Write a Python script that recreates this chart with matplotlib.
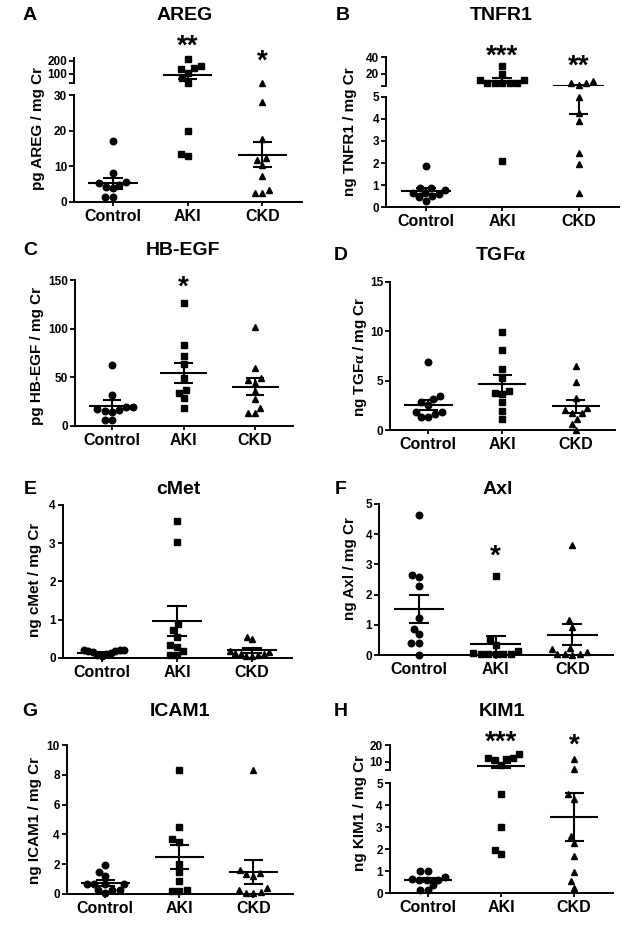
import numpy as np
import matplotlib
matplotlib.use('Agg')
import matplotlib.pyplot as plt
import matplotlib.transforms as mtransforms

plt.rcParams['font.family'] = 'Liberation Sans'
plt.rcParams['font.weight'] = 'bold'
plt.rcParams['mathtext.fontset'] = 'custom'
plt.rcParams['mathtext.rm'] = 'Liberation Serif'
plt.rcParams['mathtext.it'] = 'Liberation Serif:italic'
plt.rcParams['mathtext.bf'] = 'Liberation Serif:bold'

W, H = 626, 944

groups = ['Control', 'AKI', 'CKD']
markers = ['o', 's', '^']
msizes = [4.7, 4.3, 4.7]

# A - AREG
areg_control = [17.2, 8.0, 5.6, 5.4, 4.8, 4.2, 3.8, 1.5, 1.5]
areg_aki = [216, 164, 144, 139, 110, 67, 31, 19.8, 13.5, 12.8]
areg_ckd = [33, 28.1, 17.6, 12.2, 11.8, 10.4, 7.3, 3.4, 2.6, 2.6]
areg_mean = [5.2, 92, 13.3]
areg_sem = [1.55, 31, 3.4]

# B - TNFR1
tnfr_control = [1.85, 0.88, 0.85, 0.8, 0.66, 0.65, 0.6, 0.5, 0.45, 0.3]
tnfr_aki = [29.1, 19.5, 12.2, 12.2, 9.2, 9.2, 9.0, 8.8, 8.5, 2.1]
tnfr_ckd = [11, 9, 8.3, 6.2, 4.97, 4.28, 3.9, 2.47, 1.96, 0.66]
tnfr_mean = [0.75, 11.4, 5.3]
tnfr_sem = [0.13, 3.0, 1.07]

# C - HB-EGF
hbegf_control = [62.8, 31.6, 20, 20, 17, 16, 15, 14, 5.8, 5.8]
hbegf_aki = [126.3, 83.1, 72.1, 63.5, 49.8, 37.1, 34.3, 28.5, 18.9]
hbegf_ckd = [102.3, 60, 49, 47.5, 44.6, 36, 27.5, 18.9, 13, 13]
hbegf_mean = [20.6, 54.9, 40.5]
hbegf_sem = [5.8, 10.3, 8.6]

# D - TGFa
tgfa_control = [6.9, 3.45, 3.2, 2.9, 2.6, 1.85, 1.85, 1.6, 1.3, 1.3]
tgfa_aki = [9.94, 8.09, 6.17, 5.3, 4.0, 3.74, 3.7, 2.9, 2.0, 1.18]
tgfa_ckd = [6.5, 4.92, 3.3, 2.3, 2.1, 1.79, 1.72, 1.18, 0.67, 0.05]
tgfa_mean = [2.56, 4.72, 2.42]
tgfa_sem = [0.5, 0.84, 0.64]

# E - cMet
cmet_control = [0.2, 0.2, 0.19, 0.18, 0.17, 0.15, 0.12, 0.1, 0.08, 0.05]
cmet_aki = [3.58, 3.04, 0.87, 0.72, 0.55, 0.34, 0.28, 0.17, 0.08, 0.06]
cmet_ckd = [0.55, 0.5, 0.18, 0.15, 0.12, 0.1, 0.1, 0.08, 0.05, 0.04]
cmet_mean = [0.13, 0.96, 0.19]
cmet_sem = [0.02, 0.4, 0.07]

# F - Axl
axl_control = [4.64, 2.64, 2.58, 2.29, 1.23, 0.88, 0.7, 0.42, 0.42, 0.02]
axl_aki = [2.6, 0.5, 0.33, 0.13, 0.06, 0.05, 0.05, 0.04, 0.04, 0.03]
axl_ckd = [3.65, 1.15, 0.93, 0.25, 0.22, 0.1, 0.05, 0.03, 0.03, 0.02]
axl_mean = [1.54, 0.36, 0.68]
axl_sem = [0.46, 0.27, 0.35]

# G - ICAM1
icam_control = [1.96, 1.44, 1.21, 0.68, 0.66, 0.64, 0.62, 0.28, 0.25, 0.22, 0.05]
icam_aki = [8.31, 4.47, 3.7, 3.5, 2.0, 1.44, 0.83, 0.27, 0.2, 0.16]
icam_ckd = [8.31, 1.62, 1.4, 1.35, 1.17, 0.38, 0.27, 0.1, 0.05, 0.05]
icam_mean = [0.72, 2.47, 1.46]
icam_sem = [0.17, 0.83, 0.78]

# H - KIM1
kim_control = [0.98, 0.98, 0.72, 0.62, 0.6, 0.6, 0.58, 0.38, 0.15, 0.12]
kim_aki = [14.4, 12.3, 12, 11.5, 11, 8, 4.5, 3.0, 1.97, 1.79]
kim_ckd = [11.5, 5.4, 4.5, 4.3, 2.58, 2.27, 1.67, 0.95, 0.53, 0.23]
kim_mean = [0.58, 7.6, 3.45]
kim_sem = [0.09, 1.5, 1.1]

# panel layout, pixel geometry of the reference
panels = [
    dict(letter='A', title='AREG', ylabel='pg AREG / mg Cr',
         data=[areg_control, areg_aki, areg_ckd], mean=areg_mean, sem=areg_sem,
         x=(74, 302), lower=(95, 202, 0, 30, [0, 10, 20, 30]),
         upper=(58, 83.3, 28, 222, [100, 200]),
         title_xy=(185, 15), letter_xy=(30, 15), ylab_xy=(38, 129),
         stars=[('**', 1, 42), ('*', 2, 57)]),
    dict(letter='B', title='TNFR1', ylabel='ng TNFR1 / mg Cr',
         data=[tnfr_control, tnfr_aki, tnfr_ckd], mean=tnfr_mean, sem=tnfr_sem,
         x=(386, 619), lower=(96.7, 207.3, 0, 5, [0, 1, 2, 3, 4, 5]),
         upper=(57, 86, 5, 40, [20, 40]),
         title_xy=(501, 15), letter_xy=(343, 15), ylab_xy=(350, 132),
         stars=[('***', 1, 52), ('**', 2, 62)]),
    dict(letter='C', title='HB-EGF', ylabel='pg HB-EGF / mg Cr',
         data=[hbegf_control, hbegf_aki, hbegf_ckd], mean=hbegf_mean, sem=hbegf_sem,
         x=(75, 293), lower=(280.3, 426, 0, 150, [0, 50, 100, 150]), upper=None,
         title_xy=(183, 250), letter_xy=(30, 250), ylab_xy=(37, 356),
         stars=[('*', 1, 283)]),
    dict(letter='D', title=r'TGF$\mathrm{\alpha}$', ylabel=r'ng TGF$\mathrm{\alpha}$ / mg Cr',
         data=[tgfa_control, tgfa_aki, tgfa_ckd], mean=tgfa_mean, sem=tgfa_sem,
         x=(390, 615), lower=(282, 430.3, 0, 15, [0, 5, 10, 15]), upper=None,
         title_xy=(501, 256), letter_xy=(341, 256), ylab_xy=(360, 357),
         stars=[]),
    dict(letter='E', title='cMet', ylabel='ng cMet / mg Cr',
         data=[cmet_control, cmet_aki, cmet_ckd], mean=cmet_mean, sem=cmet_sem,
         x=(62.7, 292), lower=(505, 657.7, 0, 4, [0, 1, 2, 3, 4]), upper=None,
         title_xy=(178, 489), letter_xy=(30, 489), ylab_xy=(35, 580),
         stars=[]),
    dict(letter='F', title='Axl', ylabel='ng Axl / mg Cr',
         data=[axl_control, axl_aki, axl_ckd], mean=axl_mean, sem=axl_sem,
         x=(379, 613), lower=(503.7, 655.3, 0, 5, [0, 1, 2, 3, 4, 5]), upper=None,
         title_xy=(498, 489), letter_xy=(341, 489), ylab_xy=(350, 569),
         stars=[('*', 1, 552)]),
    dict(letter='G', title='ICAM1', ylabel='ng ICAM1 / mg Cr',
         data=[icam_control, icam_aki, icam_ckd], mean=icam_mean, sem=icam_sem,
         x=(66.7, 292.7), lower=(745.3, 893.7, 0, 10, [0, 2, 4, 6, 8, 10]), upper=None,
         title_xy=(180, 711), letter_xy=(30, 711), ylab_xy=(35, 820),
         stars=[]),
    dict(letter='H', title='KIM1', ylabel='ng KIM1 / mg Cr',
         data=[kim_control, kim_aki, kim_ckd], mean=kim_mean, sem=kim_sem,
         x=(389.7, 613), lower=(783.3, 893, 0, 5, [0, 1, 2, 3, 4, 5]),
         upper=(745, 770, 5, 20, [10, 20]),
         title_xy=(502, 711), letter_xy=(341, 711), ylab_xy=(360, 813),
         stars=[('***', 1, 738), ('*', 2, 741)]),
]

XLIM = (-0.52, 2.53)
SPREAD_MAX = 0.3  # widest a group of dots may spread, in category units


def px_rect(x0, x1, ytop, ybot):
    return [x0 / W, 1 - ybot / H, (x1 - x0) / W, (ybot - ytop) / H]


def swarm(ypx, d):
    # simple beeswarm: smallest horizontal shift that avoids overlap
    order = np.argsort(ypx)
    xs = np.zeros(len(ypx))
    placed = []
    for i in order:
        cands = [0.0]
        for xj, yj in placed:
            dy = abs(ypx[i] - yj)
            if dy < d:
                w = np.sqrt(d * d - dy * dy)
                cands += [xj - w, xj + w]
        cands.sort(key=lambda c: (abs(c), c))
        for c in cands:
            if all((c - xj) ** 2 + (ypx[i] - yj) ** 2 >= d * d - 1e-6 for xj, yj in placed):
                xs[i] = c
                break
        placed.append((xs[i], ypx[i]))
    return xs


def draw_segment(ax, p, lo, hi, cut, top_seg, wpx, hpx):
    # cut = top value of the lower segment; points above it go to the upper one
    xscale = wpx / (XLIM[1] - XLIM[0])
    for i, vals in enumerate(p['data']):
        v = np.array(vals, dtype=float)
        sel = v > cut if top_seg else v <= cut
        v = v[sel]
        if len(v):
            ypx = (v - lo) / (hi - lo) * hpx
            off = swarm(ypx, 7.5) / xscale
            if np.abs(off).max() > SPREAD_MAX:
                off = off * SPREAD_MAX / np.abs(off).max()
            ax.plot(i + off, v, markers[i], ls='none', color='k', ms=msizes[i],
                    clip_on=False, zorder=3)
        m, s = p['mean'][i], p['sem'][i]
        kw = dict(color='k', lw=1.5, solid_capstyle='butt')
        ax.plot([i - 0.33, i + 0.33], [m, m], **kw)
        ax.plot([i, i], [m - s, m + s], **kw)
        ax.plot([i - 0.13, i + 0.13], [m + s, m + s], **kw)
        ax.plot([i - 0.13, i + 0.13], [m - s, m - s], **kw)


fig = plt.figure(figsize=(W / 100, H / 100), dpi=100)

for p in panels:
    x0, x1 = p['x']
    ytop, ybot, lo, hi, ticks = p['lower']
    ax = fig.add_axes(px_rect(x0, x1, ytop, ybot))
    ax.set_xlim(*XLIM)
    ax.set_ylim(lo, hi)
    draw_segment(ax, p, lo, hi, hi, False, x1 - x0, ybot - ytop)
    ax.set_yticks(ticks)
    ax.set_yticklabels([str(t) for t in ticks])
    ax.set_xticks(range(3))
    ax.set_xticklabels(groups, fontsize=11.5, fontweight='bold')
    for side in ['top', 'right']:
        ax.spines[side].set_visible(False)
    for side in ['left', 'bottom']:
        ax.spines[side].set_linewidth(1.4)
    ax.tick_params(axis='y', direction='out', length=3.5, width=1.3, labelsize=8.5, pad=1.5)
    ax.tick_params(axis='x', direction='out', length=3, width=1.3, pad=2)

    if p['upper'] is not None:
        ut, ub, ulo, uhi, uticks = p['upper']
        axu = fig.add_axes(px_rect(x0, x1, ut, ub))
        axu.set_xlim(*XLIM)
        axu.set_ylim(ulo, uhi)
        draw_segment(axu, p, ulo, uhi, hi, True, x1 - x0, ub - ut)
        axu.set_yticks([ulo] + uticks)
        axu.set_yticklabels([''] + [str(t) for t in uticks])
        axu.set_xticks([])
        for side in ['top', 'right', 'bottom']:
            axu.spines[side].set_visible(False)
        axu.spines['left'].set_linewidth(1.4)
        axu.tick_params(axis='y', direction='out', length=3.5, width=1.3, labelsize=8.5, pad=1.5)
        axu.patch.set_alpha(0)

    tx, ty = p['title_xy']
    fig.text(tx / W, 1 - ty / H, p['title'], fontsize=14, fontweight='bold',
             ha='center', va='center')
    lx, ly = p['letter_xy']
    fig.text(lx / W, 1 - ly / H, p['letter'], fontsize=14, fontweight='bold',
             ha='center', va='center')
    yx, yy = p['ylab_xy']
    fig.text(yx / W, 1 - yy / H, p['ylabel'], fontsize=11, fontweight='bold',
             rotation=90, ha='center', va='center')

    trans = mtransforms.blended_transform_factory(ax.transData, fig.transFigure)
    for s, gi, sy in p['stars']:
        ax.text(gi, 1 - (sy + 5) / H, s, transform=trans, fontsize=20,
                fontweight='bold', ha='center', va='center', clip_on=False)

fig.savefig('out.png', dpi=100)
